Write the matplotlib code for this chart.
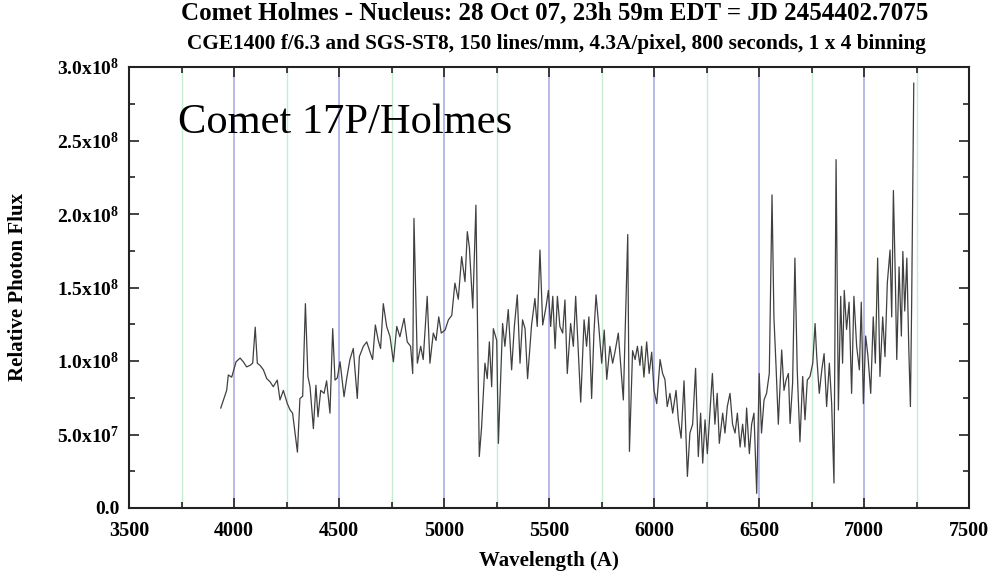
import matplotlib
matplotlib.use("Agg")
import matplotlib.pyplot as plt
from matplotlib.ticker import MultipleLocator, FuncFormatter

# spectrum: wavelength in A, flux in units of 1e8
wavelength = [
    3937, 3965, 3973, 3989, 4010, 4029, 4044, 4060, 4076, 4089, 4101, 4111, 4124, 4140,
    4156, 4171, 4187, 4206, 4219, 4235, 4254, 4267, 4279, 4302, 4314, 4327, 4340, 4352,
    4362, 4378, 4390, 4400, 4413, 4429, 4441, 4457, 4470, 4481, 4492, 4505, 4524, 4537,
    4552, 4568, 4587, 4597, 4616, 4632, 4648, 4660, 4673, 4687, 4698, 4711, 4727, 4743,
    4759, 4775, 4790, 4810, 4825, 4841, 4851, 4857, 4873, 4889, 4901, 4920, 4933, 4949,
    4962, 4975, 4987, 5005, 5021, 5037, 5052, 5068, 5084, 5100, 5111, 5121, 5137, 5152,
    5168, 5179, 5195, 5206, 5216, 5227, 5235, 5251, 5259, 5279, 5290, 5306, 5322, 5335,
    5349, 5362, 5374, 5386, 5398, 5417, 5433, 5444, 5457, 5470, 5486, 5497, 5508, 5518,
    5529, 5540, 5552, 5565, 5576, 5587, 5603, 5616, 5627, 5640, 5651, 5667, 5679, 5690,
    5703, 5714, 5724, 5737, 5751, 5763, 5775, 5790, 5803, 5814, 5830, 5841, 5854, 5875,
    5883, 5898, 5910, 5921, 5933, 5941, 5952, 5965, 5977, 5989, 6000, 6013, 6029, 6041,
    6052, 6063, 6076, 6089, 6105, 6116, 6129, 6143, 6159, 6171, 6184, 6198, 6211, 6222,
    6232, 6243, 6254, 6267, 6278, 6290, 6301, 6311, 6327, 6338, 6349, 6362, 6374, 6386,
    6397, 6410, 6422, 6433, 6441, 6454, 6465, 6476, 6489, 6501, 6512, 6524, 6536, 6549,
    6562, 6571, 6581, 6592, 6608, 6619, 6629, 6640, 6648, 6660, 6671, 6682, 6695, 6708,
    6719, 6730, 6743, 6756, 6767, 6775, 6787, 6799, 6810, 6822, 6835, 6846, 6857, 6867,
    6878, 6889, 6898, 6906, 6917, 6929, 6941, 6952, 6965, 6978, 6987, 6997, 7008, 7019,
    7032, 7044, 7054, 7065, 7076, 7089, 7100, 7111, 7124, 7132, 7140, 7149, 7156, 7167,
    7178, 7185, 7194, 7204, 7213, 7221, 7227, 7237,
]
flux_e8 = [
    0.68, 0.80, 0.905, 0.89, 0.995, 1.02, 0.995, 0.96, 0.97, 0.985, 1.23, 0.985, 0.97, 0.94,
    0.88, 0.86, 0.825, 0.87, 0.735, 0.80, 0.71, 0.667, 0.645, 0.38, 0.745, 0.76, 1.39, 0.895,
    0.825, 0.54, 0.835, 0.62, 0.80, 0.78, 0.865, 0.645, 1.22, 0.87, 0.885, 0.995, 0.757, 0.885,
    1.01, 1.085, 0.745, 1.03, 1.10, 1.13, 1.06, 1.01, 1.245, 1.14, 1.085, 1.39, 1.235, 1.165,
    0.995, 1.235, 1.165, 1.29, 1.13, 1.10, 0.915, 1.97, 0.985, 1.10, 1.01, 1.44, 0.985, 1.19,
    1.14, 1.30, 1.19, 1.21, 1.28, 1.31, 1.53, 1.42, 1.71, 1.54, 1.88, 1.77, 1.36, 2.06,
    0.35, 0.55, 0.985, 0.88, 1.13, 0.825, 1.22, 1.14, 0.44, 1.255, 1.10, 1.35, 0.94, 1.235,
    1.45, 0.985, 1.28, 1.22, 0.88, 1.245, 1.425, 1.235, 1.755, 1.245, 1.37, 1.48, 1.235, 1.44,
    1.085, 1.44, 1.235, 1.19, 1.415, 0.915, 1.255, 1.10, 1.44, 1.05, 0.72, 1.28, 1.10, 1.30,
    0.745, 1.19, 1.45, 1.235, 0.985, 1.21, 0.875, 1.10, 0.985, 1.06, 1.19, 0.985, 0.735, 1.86,
    0.385, 1.07, 1.01, 1.10, 0.97, 1.10, 0.89, 1.13, 0.915, 1.06, 0.80, 0.71, 1.01, 0.915,
    0.875, 0.69, 0.78, 0.645, 0.80, 0.60, 0.475, 0.865, 0.215, 0.51, 0.57, 0.95, 0.35, 0.645,
    0.305, 0.60, 0.37, 0.667, 0.915, 0.57, 0.78, 0.44, 0.645, 0.51, 0.69, 0.78, 0.57, 0.51,
    0.645, 0.415, 0.57, 0.415, 0.68, 0.37, 0.57, 0.645, 0.10, 0.915, 0.51, 0.735, 0.78, 0.915,
    2.13, 1.30, 0.97, 0.57, 1.075, 0.80, 0.87, 0.915, 0.575, 0.85, 1.70, 0.94, 0.45, 0.895,
    0.60, 0.87, 0.895, 0.985, 1.255, 1.03, 0.78, 0.94, 1.05, 0.69, 0.985, 0.71, 0.17, 2.37,
    0.667, 1.44, 0.985, 1.48, 1.215, 1.40, 0.78, 1.44, 1.10, 0.94, 1.40, 0.71, 1.17, 1.03,
    0.78, 1.30, 0.985, 1.70, 0.895, 1.30, 1.03, 1.53, 1.755, 1.30, 2.16, 1.575, 1.01, 1.64,
    1.17, 1.745, 1.34, 1.70, 1.10, 0.69, 1.40, 2.89,
]
flux = [f * 1e8 for f in flux_e8]

blue_lines = [4000, 4500, 5000, 5500, 6000, 6500, 7000]
green_lines = [3750, 4250, 4750, 5250, 5750, 6250, 6750, 7250]

title = "Comet Holmes - Nucleus: 28 Oct 07, 23h 59m EDT = JD 2454402.7075"
subtitle = "CGE1400 f/6.3 and SGS-ST8, 150 lines/mm, 4.3A/pixel, 800 seconds, 1 x 4 binning"

plt.rcParams["font.family"] = "Liberation Serif"
plt.rcParams["mathtext.fontset"] = "custom"
plt.rcParams["mathtext.rm"] = "Liberation Serif:bold"
plt.rcParams["mathtext.bf"] = "Liberation Serif:bold"
plt.rcParams["mathtext.default"] = "rm"

fig = plt.figure(figsize=(9.93, 5.78), dpi=100)
ax = fig.add_axes([129 / 993, 70 / 578, 840 / 993, 441 / 578])

for w in blue_lines:
    ax.axvline(w, color="#a4a4e4", lw=1.1, zorder=1)
for w in green_lines:
    ax.axvline(w, color="#c6ecd2", lw=1.0, zorder=1)

ax.plot(wavelength, flux, color="#404040", lw=0.9, zorder=3)

ax.set_xlim(3500, 7500)
ax.set_ylim(0, 3e8)
ax.xaxis.set_major_locator(MultipleLocator(500))
ax.xaxis.set_minor_locator(MultipleLocator(250))
ax.yaxis.set_major_locator(MultipleLocator(5e7))
ax.yaxis.set_minor_locator(MultipleLocator(2.5e7))


def ylab(v, pos):
    if v == 0:
        return "0.0"
    exp = len(str(int(v))) - 1
    return "%.1fx10$^{%d}$" % (v / 10 ** exp, exp)


ax.yaxis.set_major_formatter(FuncFormatter(ylab))
ax.tick_params(which="both", direction="in", top=True, right=True, width=1.2, color="#222222")
ax.tick_params(which="major", length=7)
ax.tick_params(which="minor", length=4)
ax.tick_params(axis="x", pad=9, labelsize=14.5)
ax.tick_params(axis="y", pad=7, labelsize=14)
for lab in ax.get_xticklabels() + ax.get_yticklabels():
    lab.set_fontweight("bold")
for s in ax.spines.values():
    s.set_linewidth(1.5)
    s.set_color("#222222")

ax.text(3733, 2.55e8, "Comet 17P/Holmes", fontsize=30.6, va="baseline", zorder=4)

fig.text(555 / 993, 1 - 13 / 578, title, ha="center", va="center", fontsize=18, fontweight="bold")
fig.text(556 / 993, 1 - 44 / 578, subtitle, ha="center", va="center", fontsize=15.3, fontweight="bold")
fig.text(549 / 993, 1 - 561 / 578, "Wavelength (A)", ha="center", va="center", fontsize=15, fontweight="bold")
fig.text(18 / 993, 1 - 287 / 578, "Relative Photon Flux", ha="center", va="center", rotation=90,
         fontsize=15, fontweight="bold")

fig.savefig("out.png", dpi=100)
